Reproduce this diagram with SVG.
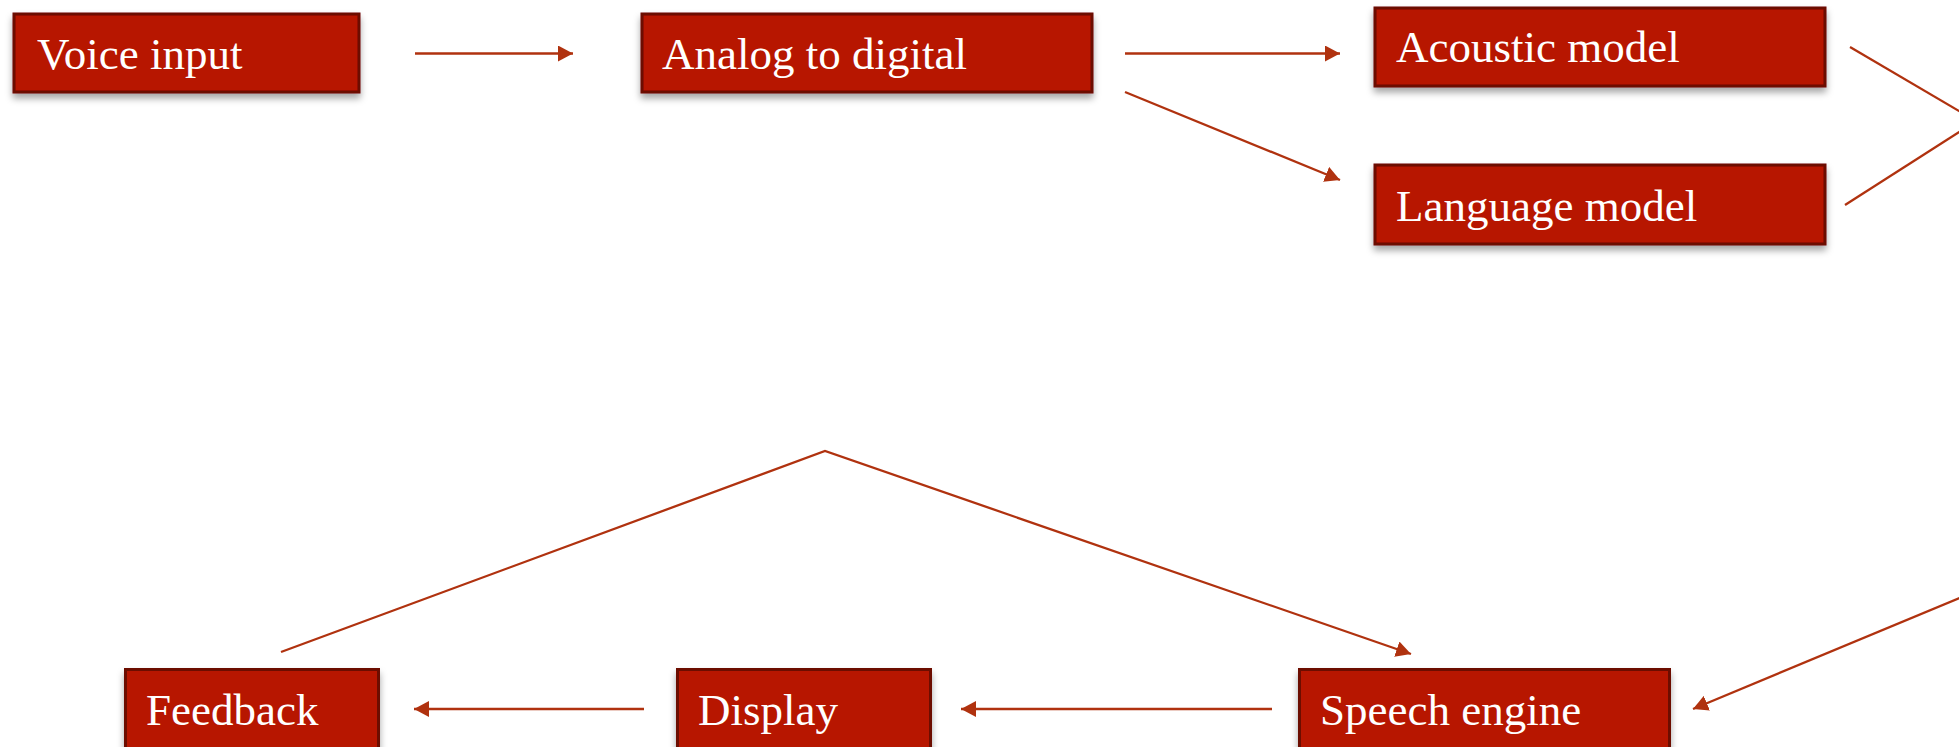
<svg xmlns="http://www.w3.org/2000/svg" width="1959" height="747" viewBox="0 0 1959 747">
<defs>
<filter id="sh" x="-10%" y="-20%" width="120%" height="160%">
<feDropShadow dx="0" dy="5" stdDeviation="3.5" flood-color="#000" flood-opacity="0.35"/>
</filter>
<marker id="ah" markerUnits="userSpaceOnUse" markerWidth="16" markerHeight="16" refX="15" refY="8" orient="auto">
<path d="M0,0 L15,8 L0,16 Z" fill="#b0320f"/>
</marker>
<style>
.box{fill:#b71400;stroke:#6c0b00;stroke-width:3;filter:url(#sh)}
.lbl{font-family:"Liberation Serif","Times New Roman",serif;font-size:45px;fill:#ffffff}
.c{stroke:#b0320f;stroke-width:2.3;fill:none}
.a{marker-end:url(#ah)}
</style>
</defs>
<rect width="1959" height="747" fill="#ffffff"/>
<g id="voice-input"><rect class="box" x="14" y="14" width="345" height="78"/><text class="lbl" x="37" y="69">Voice input</text></g>
<g id="analog-to-digital"><rect class="box" x="642" y="14" width="450" height="78"/><text class="lbl" x="662" y="69">Analog to digital</text></g>
<g id="acoustic-model"><rect class="box" x="1375" y="8" width="450" height="78"/><text class="lbl" x="1396" y="62">Acoustic model</text></g>
<g id="language-model"><rect class="box" x="1375" y="165" width="450" height="79"/><text class="lbl" x="1396" y="221">Language model</text></g>
<g id="feedback"><rect class="box" x="125.5" y="669.5" width="253" height="82"/><text class="lbl" x="146" y="725">Feedback</text></g>
<g id="display"><rect class="box" x="677.5" y="669.5" width="253" height="82"/><text class="lbl" x="698" y="725">Display</text></g>
<g id="speech-engine"><rect class="box" x="1299.5" y="669.5" width="370" height="82"/><text class="lbl" x="1320" y="725">Speech engine</text></g>
<g id="connectors">
<line class="c a" x1="415" y1="53.5" x2="573" y2="53.5"/>
<line class="c a" x1="1125" y1="53.5" x2="1340" y2="53.5"/>
<line class="c a" x1="1125" y1="92" x2="1340" y2="180"/>
<line class="c" x1="1850" y1="47" x2="1975" y2="120.4"/>
<line class="c" x1="1845" y1="205" x2="1975" y2="121.8"/>
<line class="c a" x1="1975" y1="591.5" x2="1693" y2="709"/>
<line class="c a" x1="1272" y1="709" x2="961" y2="709"/>
<line class="c a" x1="644" y1="709" x2="414" y2="709"/>
<polyline class="c a" points="281,652 825,451 1411,654"/>
</g>
</svg>
